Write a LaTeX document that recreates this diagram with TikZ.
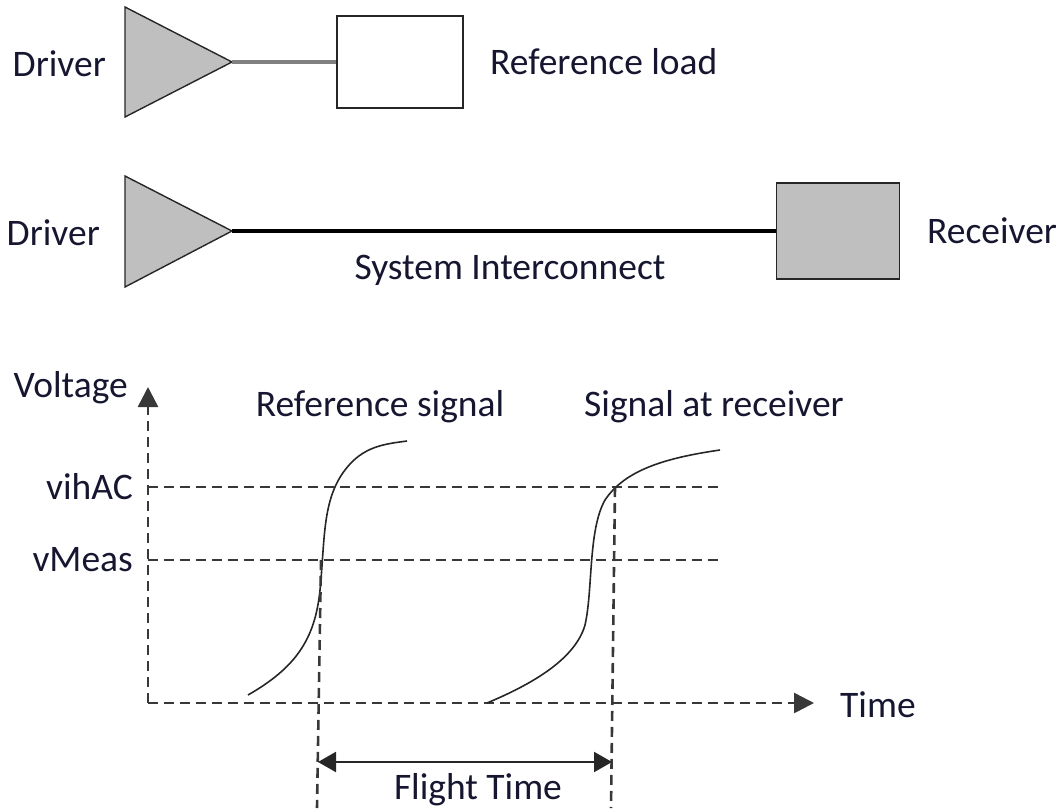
\documentclass[tikz,border=0pt]{standalone}
\usepackage{fontspec}
\setmainfont{Carlito}
\usetikzlibrary{arrows.meta}
\definecolor{ink}{RGB}{22,22,48}

\begin{document}
\begin{tikzpicture}[x=1pt, y=-1pt,
        amp/.style = {draw=black!85, fill=black!25, line width=1.4pt, line join=miter},
        box/.style = {draw=black!85, line width=1.8pt, inner sep=0pt},
        lbl/.style = {font=\fontsize{37.5}{40}\selectfont, text=ink, inner sep=0pt},
        grid/.style = {draw=black!78, line width=2.6pt, dash pattern=on 10pt off 6pt},
        wave/.style = {black!85, line width=1.6pt},
        tip/.style = {-{Triangle[length=20pt, width=20pt]}}
    ]
    \useasboundingbox (0,0) rectangle (1059,808);
    % reference load
    \draw[amp] (125,7) -- (232,62) coordinate (outA) -- (125,117) -- cycle;
    \node[box, fill=white, minimum width=126pt, minimum height=92pt] (load) at (400,62) {};
    \draw[black!50, line width=3pt] (outA) -- (load.west);
    \node[lbl, anchor=base east] (drvA) at (106,77) {Driver};
    \node[lbl, anchor=west] (loadtxt) at (490,62) {Reference load};
    % system interconnect
    \draw[amp] (125,176) -- (232,231) coordinate (outB) -- (125,287) -- cycle;
    \node[box, fill=black!25, minimum width=123pt, minimum height=96pt] (rcv) at (838,231) {};
    \draw[black, line width=4.5pt] (outB) -- (rcv.west);
    \node[lbl, anchor=base east] (drvB) at (100,245) {Driver};
    \node[lbl, anchor=base west] (rcvtxt) at (927,243) {Receiver};
    \node[lbl] (link) at (510,270) {System Interconnect};
    % axes
    \coordinate (O) at (148,703);
    \coordinate (vtop) at (148,387);
    \coordinate (tend) at (814,703);
    \draw[grid, tip] (O) -- (vtop);
    \draw[grid, tip] (O) -- (tend);
    \node[lbl, anchor=base east] (volt) at (128,397) {Voltage};
    \node[lbl, anchor=west] (time) at (840,705) {Time};
    % levels
    \coordinate (vih) at (148,487);
    \coordinate (vm) at (148,560);
    \draw[grid] (vih) -- (720,487);
    \draw[grid] (vm) -- (720,560);
    \node[lbl, anchor=east] (vihtxt) at (133,487) {vihAC};
    \node[lbl, anchor=east] (vmtxt) at (133,560) {vMeas};
    % signals
    \draw[wave] (248,695) .. controls (295,668) and (315,640) .. (320,590)
        .. controls (325,540) and (322,500) .. (345,470)
        .. controls (363,446) and (385,444) .. (407,441);
    \draw[wave] (487,703) .. controls (530,685) and (575,660) .. (585,625)
        .. controls (593,590) and (588,530) .. (605,500)
        .. controls (625,470) and (665,458) .. (720,450);
    \node[lbl] (reftxt) at (380,407) {Reference signal};
    \node[lbl] (rxtxt) at (714,407) {Signal at receiver};
    % flight time
    \coordinate (tA) at (321,560);
    \coordinate (tB) at (615,487);
    \coordinate (tAb) at (317,808);
    \coordinate (tBb) at (611,808);
    \draw[grid] (tA) -- (tAb);
    \draw[grid] (tB) -- (tBb);
    \draw[black!85, line width=2.2pt, {Triangle[length=18pt, width=20pt]}-{Triangle[length=18pt, width=20pt]}]
        (318,762) coordinate (fA) -- (612,762) coordinate (fB);
    \node[lbl] (flight) at (478,790) {Flight Time};
\end{tikzpicture}
\end{document}
